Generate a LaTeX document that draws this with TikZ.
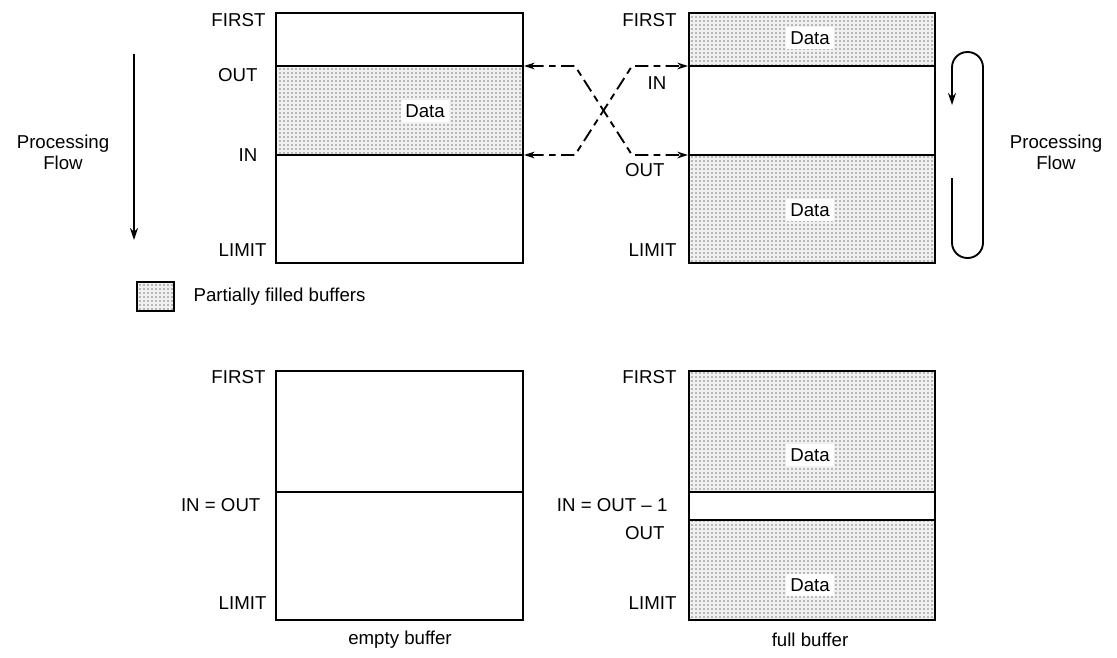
\documentclass[tikz,border=0pt]{standalone}
\usepackage{fontspec}
\setmainfont{Liberation Sans}
\usetikzlibrary{patterns,arrows.meta}
\begin{document}
\begin{tikzpicture}[x=0.75pt,y=-0.75pt,
  lbl/.style={font=\fontsize{14}{16}\selectfont, inner sep=1pt},
  rlbl/.style={lbl, anchor=east},
  boxline/.style={line width=1.5pt},
  divline/.style={line width=1.3pt},
  shade/.style={fill=gray!12, postaction={pattern=dots, pattern color=black}},
  datalbl/.style={lbl, fill=white, inner sep=3pt},
  flowarrow/.style={line width=1.4pt, -{Stealth[length=9pt,width=6pt]}},
  xarrow/.style={line width=1.4pt, dash pattern=on 10pt off 4pt on 5pt off 4pt, {Stealth[length=8pt,width=5pt]}-{Stealth[length=8pt,width=5pt]}}
]
\useasboundingbox (0,0) rectangle (1117,657);

% ---------- top left buffer ----------
\fill[shade] (276,66) rectangle (523,155);
\draw[boxline] (276,13) rectangle (523,263);
\draw[divline] (276,66) -- (523,66);
\draw[divline] (276,155) -- (523,155);
\node[datalbl] (tlData) at (425,111) {Data};
\node[rlbl] (tlFirst) at (267,20) {FIRST};
\node[rlbl] (tlOut) at (259,75) {OUT};
\node[rlbl] (tlIn) at (259,155) {IN};
\node[rlbl] (tlLimit) at (268,250) {LIMIT};

% ---------- top right buffer ----------
\fill[shade] (689,13) rectangle (935,66);
\fill[shade] (689,155) rectangle (935,263);
\draw[boxline] (689,13) rectangle (935,263);
\draw[divline] (689,66) -- (935,66);
\draw[divline] (689,155) -- (935,155);
\node[datalbl] (trData1) at (810,38) {Data};
\node[datalbl] (trData2) at (810,210) {Data};
\node[rlbl] (trFirst) at (678,20) {FIRST};
\node[rlbl] (trIn) at (668,83) {IN};
\node[rlbl] (trOut) at (666,170) {OUT};
\node[rlbl] (trLimit) at (678,250) {LIMIT};

% ---------- crossing pointers ----------
\coordinate (lOut) at (524,66);
\coordinate (lIn) at (524,155);
\coordinate (rIn) at (688,66);
\coordinate (rOut) at (688,155);
\coordinate (b1) at (575,66);
\coordinate (b2) at (632,155);
\coordinate (b3) at (575,155);
\coordinate (b4) at (632,66);
\draw[xarrow] (lOut) -- (b1) -- (b2) -- (rOut);
\draw[xarrow] (lIn) -- (b3) -- (b4) -- (rIn);

% ---------- processing flow (left) ----------
\coordinate (pfTop) at (134,54);
\coordinate (pfBot) at (134,240);
\draw[flowarrow] (pfTop) -- (pfBot);
\node[lbl, align=center] (pfL) at (63,152) {Processing\\Flow};

% ---------- processing flow (right, loop) ----------
\coordinate (lpStart) at (952,178);
\coordinate (lpEnd) at (952,105);
\draw[line width=1.4pt, rounded corners=11.5pt, -{Stealth[length=9pt,width=6pt]}]
  (lpStart) -- (952,258) -- (983,258) -- (983,52) -- (952,52) -- (lpEnd);
\node[lbl, align=center] (pfR) at (1056,152) {Processing\\Flow};

% ---------- legend ----------
\fill[shade] (137,282) rectangle (174,311);
\draw[line width=1.3pt] (137,282) rectangle (174,311);
\node[lbl, anchor=west] (legend) at (192,297) {Partially filled buffers};

% ---------- bottom left buffer (empty) ----------
\draw[boxline] (276,371) rectangle (523,620);
\draw[divline] (276,492) -- (523,492);
\node[rlbl] (blFirst) at (267,377) {FIRST};
\node[rlbl] (blInOut) at (262,505) {IN = OUT};
\node[rlbl] (blLimit) at (268,603) {LIMIT};
\node[lbl] (blCap) at (400,640) {empty buffer};

% ---------- bottom right buffer (full) ----------
\fill[shade] (689,371) rectangle (935,492);
\fill[shade] (689,520) rectangle (935,620);
\draw[boxline] (689,371) rectangle (935,620);
\draw[divline] (689,492) -- (935,492);
\draw[divline] (689,520) -- (935,520);
\node[datalbl] (brData1) at (810,455) {Data};
\node[datalbl] (brData2) at (810,585) {Data};
\node[rlbl] (brFirst) at (678,377) {FIRST};
\node[rlbl] (brInOut) at (669,505) {IN = OUT {–} 1};
\node[rlbl] (brOut) at (666,533) {OUT};
\node[rlbl] (brLimit) at (678,603) {LIMIT};
\node[lbl] (brCap) at (810,640) {full buffer};
\end{tikzpicture}
\end{document}
